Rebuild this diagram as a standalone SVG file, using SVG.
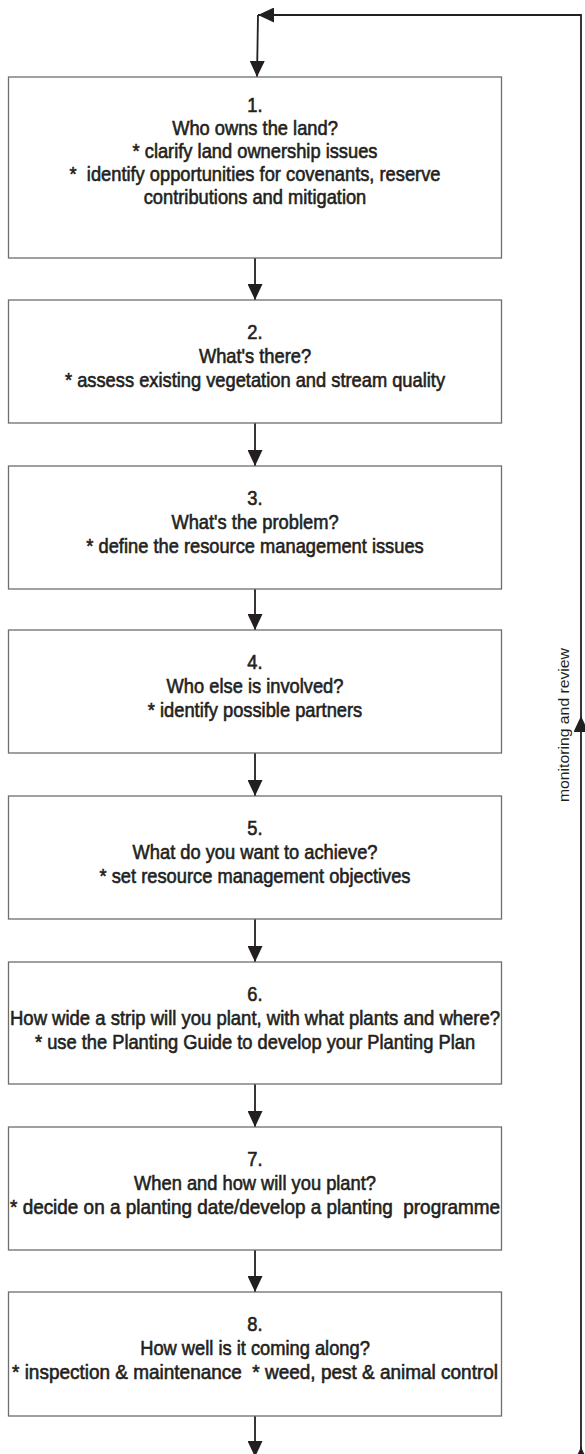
<svg xmlns="http://www.w3.org/2000/svg" width="585" height="1454" viewBox="0 0 585 1454" xml:space="preserve">
<style>
.box{fill:#ffffff;stroke:#6d6e71;stroke-width:1.3}
.t{font-family:"Liberation Sans",Arial,sans-serif;font-size:18.3px;fill:#231f20;stroke:#231f20;stroke-width:0.55;text-anchor:middle;white-space:pre}
.lbl{font-family:"Liberation Sans",Arial,sans-serif;font-size:15px;fill:#231f20;text-anchor:middle}
.c{fill:none;stroke:#231f20;stroke-width:1.8}
</style>
<defs>
<marker id="ah" viewBox="0 0 16 15" refX="16" refY="7.5" markerWidth="16" markerHeight="15" markerUnits="userSpaceOnUse" orient="auto">
<path d="M0,0 L16,7.5 L0,15 z" fill="#231f20"/>
</marker>
</defs>
<g id="connectors">
<path class="c" d="M255,258 L255,300" marker-end="url(#ah)"/>
<path class="c" d="M255,423 L255,466" marker-end="url(#ah)"/>
<path class="c" d="M255,589 L255,630" marker-end="url(#ah)"/>
<path class="c" d="M255,753 L255,796" marker-end="url(#ah)"/>
<path class="c" d="M255,919 L255,962" marker-end="url(#ah)"/>
<path class="c" d="M255,1084 L255,1127" marker-end="url(#ah)"/>
<path class="c" d="M255,1250 L255,1292" marker-end="url(#ah)"/>
<path class="c" d="M255,1416 L255,1457" marker-end="url(#ah)"/>
<path class="c" d="M581,1470 L581,1447" marker-end="url(#ah)"/>
<path class="c" d="M581,1454 L581,716" marker-end="url(#ah)"/>
<path class="c" d="M581,716 L581,15 L258,15" marker-end="url(#ah)"/>
<path class="c" d="M258,15 L257,77" marker-end="url(#ah)"/>
<text class="lbl" transform="translate(569,725) rotate(-90)" textLength="154" lengthAdjust="spacingAndGlyphs">monitoring and review</text>
</g>
<g id="node1">
<rect class="box" x="8.5" y="77" width="493" height="181"/>
<text class="t" transform="translate(255,111.5) scale(1,1.1)">1.</text>
<text class="t" transform="translate(255,135) scale(1,1.1)">Who owns the land?</text>
<text class="t" transform="translate(255,158) scale(1,1.1)">* clarify land ownership issues</text>
<text class="t" transform="translate(255,181) scale(1,1.1)">*  identify opportunities for covenants, reserve</text>
<text class="t" transform="translate(255,204) scale(1,1.1)">contributions and mitigation</text>
</g>
<g id="node2">
<rect class="box" x="8.5" y="300" width="493" height="123"/>
<text class="t" transform="translate(255,339) scale(1,1.1)">2.</text>
<text class="t" transform="translate(255,363) scale(1,1.1)">What's there?</text>
<text class="t" transform="translate(255,387) scale(1,1.1)">* assess existing vegetation and stream quality</text>
</g>
<g id="node3">
<rect class="box" x="8.5" y="466" width="493" height="123"/>
<text class="t" transform="translate(255,505) scale(1,1.1)">3.</text>
<text class="t" transform="translate(255,529) scale(1,1.1)">What's the problem?</text>
<text class="t" transform="translate(255,553) scale(1,1.1)">* define the resource management issues</text>
</g>
<g id="node4">
<rect class="box" x="8.5" y="630" width="493" height="123"/>
<text class="t" transform="translate(255,669) scale(1,1.1)">4.</text>
<text class="t" transform="translate(255,693) scale(1,1.1)">Who else is involved?</text>
<text class="t" transform="translate(255,717) scale(1,1.1)">* identify possible partners</text>
</g>
<g id="node5">
<rect class="box" x="8.5" y="796" width="493" height="123"/>
<text class="t" transform="translate(255,835) scale(1,1.1)">5.</text>
<text class="t" transform="translate(255,859) scale(1,1.1)">What do you want to achieve?</text>
<text class="t" transform="translate(255,883) scale(1,1.1)">* set resource management objectives</text>
</g>
<g id="node6">
<rect class="box" x="8.5" y="962" width="493" height="122"/>
<text class="t" transform="translate(255,1001) scale(1,1.1)">6.</text>
<text class="t" transform="translate(255,1025) scale(1,1.1)" textLength="490" lengthAdjust="spacingAndGlyphs">How wide a strip will you plant, with what plants and where?</text>
<text class="t" transform="translate(255,1049) scale(1,1.1)">* use the Planting Guide to develop your Planting Plan</text>
</g>
<g id="node7">
<rect class="box" x="8.5" y="1127" width="493" height="123"/>
<text class="t" transform="translate(255,1166) scale(1,1.1)">7.</text>
<text class="t" transform="translate(255,1190) scale(1,1.1)">When and how will you plant?</text>
<text class="t" transform="translate(255,1214) scale(1,1.1)" textLength="490" lengthAdjust="spacingAndGlyphs">* decide on a planting date/develop a planting  programme</text>
</g>
<g id="node8">
<rect class="box" x="8.5" y="1292" width="493" height="124"/>
<text class="t" transform="translate(255,1331) scale(1,1.1)">8.</text>
<text class="t" transform="translate(255,1355) scale(1,1.1)">How well is it coming along?</text>
<text class="t" transform="translate(255,1379) scale(1,1.1)" textLength="486" lengthAdjust="spacingAndGlyphs">* inspection &amp; maintenance  * weed, pest &amp; animal control</text>
</g>
</svg>
